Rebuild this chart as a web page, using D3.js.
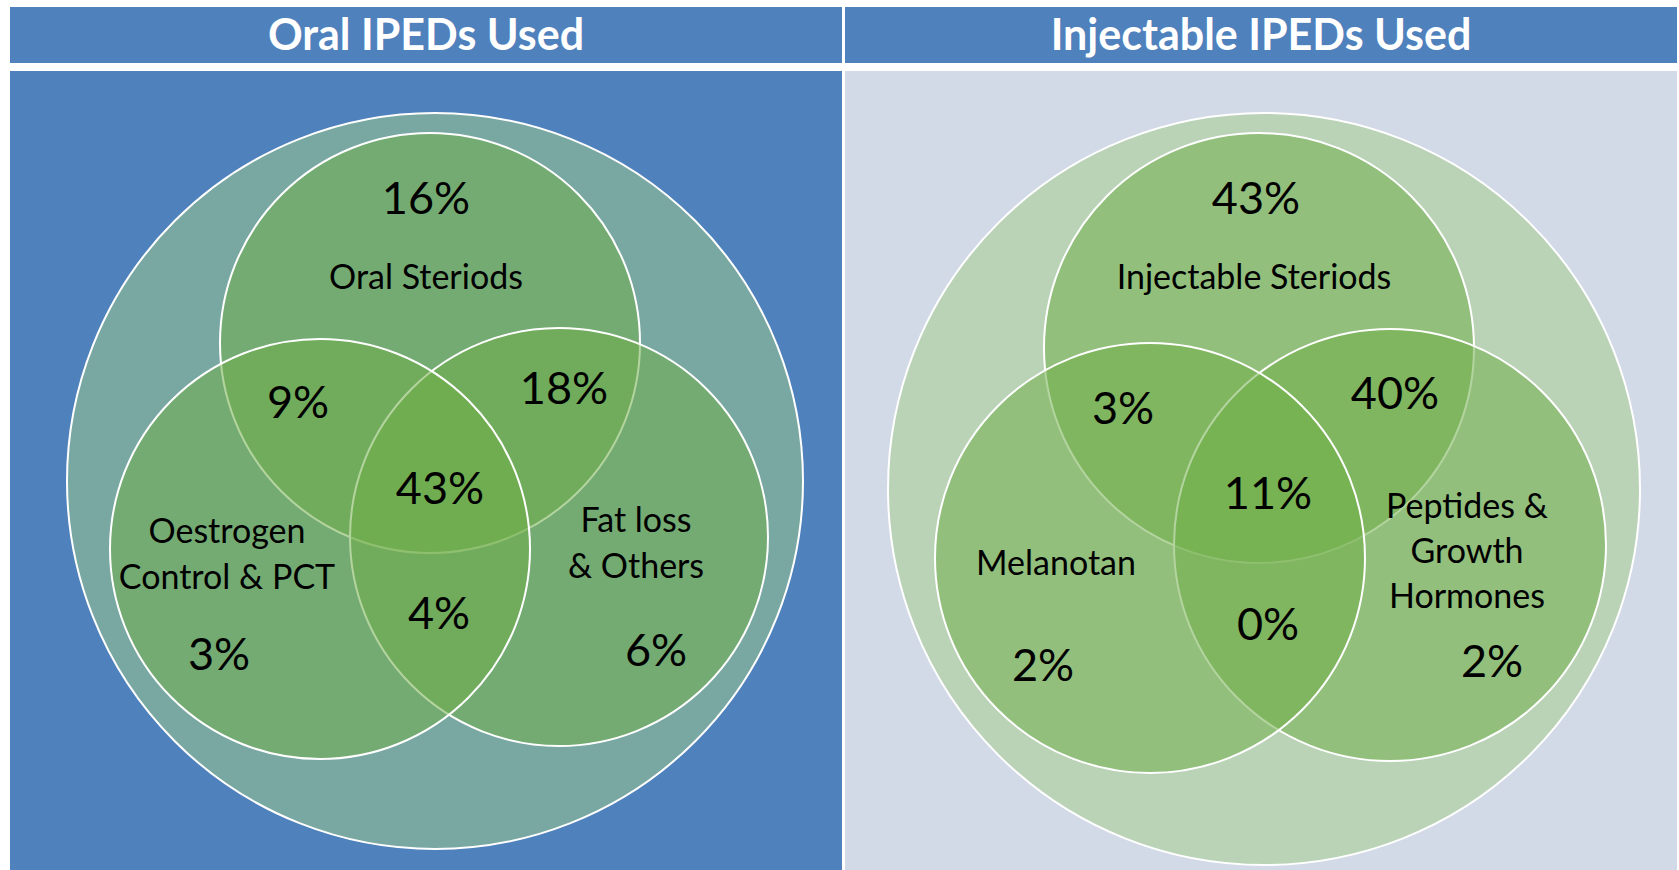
<!DOCTYPE html>
<html>
<head>
<meta charset="utf-8">
<script src="https://cdn.jsdelivr.net/npm/d3@7"></script>
<style>
  html, body { margin: 0; padding: 0; background: #ffffff; }
  svg { display: block; font-family: Lato, "Open Sans", sans-serif; }
</style>
</head>
<body>
<svg id="chart" width="1679" height="870"></svg>
<script>
// ---- data ----
const panelTitles = ["Oral IPEDs Used", "Injectable IPEDs Used"];

// set names (one entry per circle: top, left, right), with line breaks
const oralSets = [["Oral Steriods"], ["Oestrogen", "Control & PCT"], ["Fat loss", "& Others"]];
const injectableSets = [["Injectable Steriods"], ["Melanotan"], ["Peptides &", "Growth", "Hormones"]];

// region shares in %: top only, left only, right only, top+left, top+right, left+right, all three
const regionKeys = ["T", "L", "R", "TL", "TR", "LR", "TLR"];
const oralShares = [16, 3, 6, 9, 18, 4, 43];
const injectableShares = [43, 2, 2, 3, 40, 0, 11];

// ---- layout ----
const W = 1679, H = 870;
const panels = [
  {
    x0: 10, x1: 842, bg: "#4f81bd",
    outer: { cx: 435, cy: 481, r: 368 },
    circles: { T: [430, 343, 210], L: [320, 549, 210], R: [559, 537, 209] },
    setAnchors: { T: [426, 289], L: [227, 543], R: [636, 532] },
    lineGap: 46,
    regionAnchors: { T: [426, 198], L: [219, 654], R: [656, 650], TL: [298, 402], TR: [564, 388], LR: [439, 613], TLR: [440, 488] },
    sets: oralSets, shares: oralShares, title: panelTitles[0]
  },
  {
    x0: 845, x1: 1677, bg: "#d2d9e7",
    outer: { cx: 1264, cy: 489, r: 376 },
    circles: { T: [1259, 348, 215], L: [1150, 558, 215], R: [1390, 545, 216] },
    setAnchors: { T: [1254, 289], L: [1056, 575], R: [1467, 518] },
    lineGap: 45,
    regionAnchors: { T: [1256, 198], L: [1043, 665], R: [1492, 661], TL: [1123, 408], TR: [1395, 393], LR: [1268, 624], TLR: [1268, 493] },
    sets: injectableSets, shares: injectableShares, title: panelTitles[1]
  }
];

const titleTop = 7, titleBottom = 63, panelTop = 71;
// circles are painted top, right, left so later fills veil earlier outlines
const paintOrder = ["T", "R", "L"];

const svg = d3.select("#chart").attr("viewBox", `0 0 ${W} ${H}`);

const g = svg.selectAll("g.panel")
  .data(panels)
  .join("g")
  .attr("class", "panel");

// title bars
g.append("rect")
  .attr("x", d => d.x0)
  .attr("y", titleTop)
  .attr("width", d => d.x1 - d.x0)
  .attr("height", titleBottom - titleTop)
  .attr("fill", "#4f81bd");

g.append("text")
  .attr("x", d => (d.x0 + d.x1) / 2)
  .attr("y", (titleTop + titleBottom) / 2 + 15)
  .attr("text-anchor", "middle")
  .attr("fill", "#ffffff")
  .attr("font-weight", 700)
  .attr("font-size", 43)
  .text(d => d.title);

// panel backgrounds
g.append("rect")
  .attr("x", d => d.x0)
  .attr("y", panelTop)
  .attr("width", d => d.x1 - d.x0)
  .attr("height", H - panelTop)
  .attr("fill", d => d.bg);

// enclosing circle
g.append("circle")
  .attr("cx", d => d.outer.cx)
  .attr("cy", d => d.outer.cy)
  .attr("r", d => d.outer.r)
  .attr("fill", "#a3ce8a")
  .attr("fill-opacity", 0.51)
  .attr("stroke", "#ffffff")
  .attr("stroke-width", 2);

// the three overlapping sets
g.each(function (d) {
  d3.select(this).selectAll("circle.set")
    .data(paintOrder.map(k => ({ k, c: d.circles[k] })))
    .join("circle")
    .attr("class", "set")
    .attr("cx", e => e.c[0])
    .attr("cy", e => e.c[1])
    .attr("r", e => e.c[2])
    .attr("fill", "#70ad47")
    .attr("fill-opacity", 0.53)
    .attr("stroke", "#ffffff")
    .attr("stroke-width", 2);
});

// set names
g.each(function (d) {
  const names = ["T", "L", "R"].map((k, i) => ({ k, lines: d.sets[i], at: d.setAnchors[k] }));
  d3.select(this).selectAll("text.setname")
    .data(names)
    .join("text")
    .attr("class", "setname")
    .attr("text-anchor", "middle")
    .attr("font-size", 34)
    .attr("fill", "#000000")
    .each(function (e) {
      d3.select(this).selectAll("tspan")
        .data(e.lines)
        .join("tspan")
        .attr("x", e.at[0])
        .attr("y", (l, i) => e.at[1] + i * d.lineGap)
        .text(l => l);
    });
});

// region shares
g.each(function (d) {
  const items = regionKeys.map((k, i) => ({ k, v: d.shares[i], at: d.regionAnchors[k] }));
  d3.select(this).selectAll("text.share")
    .data(items)
    .join("text")
    .attr("class", "share")
    .attr("x", e => e.at[0])
    .attr("y", e => e.at[1])
    .attr("dy", "0.36em")
    .attr("text-anchor", "middle")
    .attr("font-size", 45)
    .attr("fill", "#000000")
    .text(e => d3.format("d")(e.v) + "%");
});
</script>
</body>
</html>
